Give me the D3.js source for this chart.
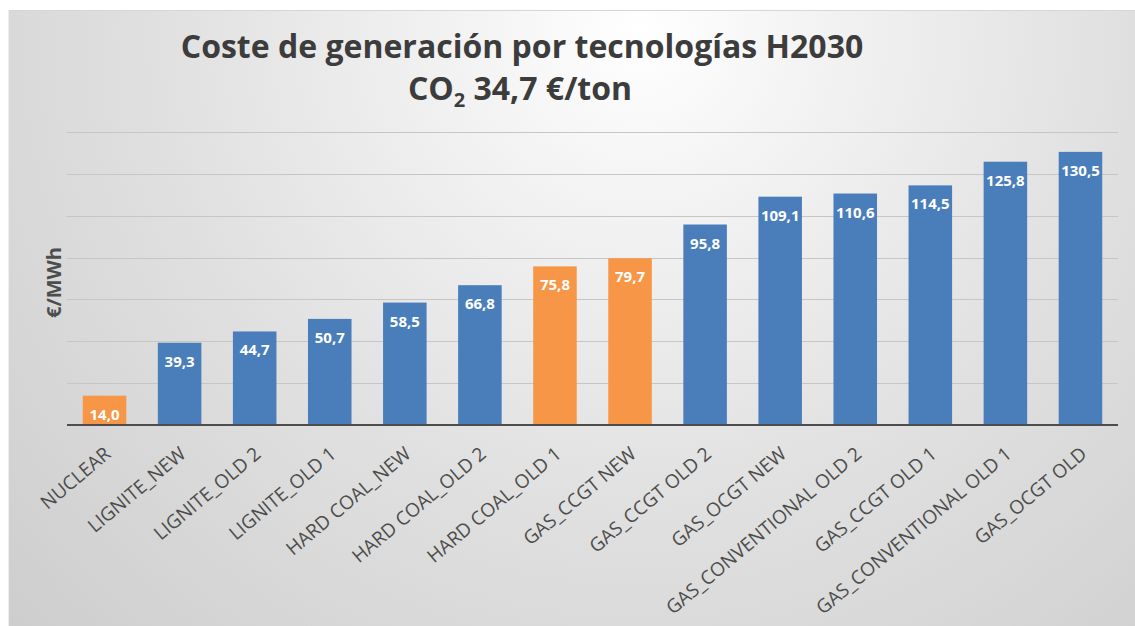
<!DOCTYPE html>
<html>
<head>
<meta charset="utf-8">
<script src="https://cdn.jsdelivr.net/npm/d3@7"></script>
<style>
  html, body { margin: 0; padding: 0; background: #ffffff; }
  svg { display: block; }
</style>
</head>
<body>
<svg id="chart" width="1135" height="626"></svg>
<script>
// Generation cost by technology, horizon 2030 (CO2 at 34,7 €/ton)
const categories = [
  "NUCLEAR", "LIGNITE_NEW", "LIGNITE_OLD 2", "LIGNITE_OLD 1",
  "HARD COAL_NEW", "HARD COAL_OLD 2", "HARD COAL_OLD 1",
  "GAS_CCGT NEW", "GAS_CCGT OLD 2", "GAS_OCGT NEW",
  "GAS_CONVENTIONAL OLD 2", "GAS_CCGT OLD 1",
  "GAS_CONVENTIONAL OLD 1", "GAS_OCGT OLD"
];
const costs = [14.0, 39.3, 44.7, 50.7, 58.5, 66.8, 75.8, 79.7, 95.8, 109.1, 110.6, 114.5, 125.8, 130.5];
const highlighted = ["NUCLEAR", "HARD COAL_OLD 1", "GAS_CCGT NEW"];
const gridValues = [20, 40, 60, 80, 100, 120, 140];
const titleLine1 = "Coste de generación por tecnologías H2030";
const titleLine2 = ["CO", "2", " 34,7 €/ton"];
const yAxisTitle = "€/MWh";

const W = 1135, H = 626;
const svg = d3.select("#chart");

const locale = d3.formatLocale({ decimal: ",", thousands: ".", grouping: [3], currency: ["", " €"] });
const fmt = locale.format(".1f");

// Panel background: light radial gradient, white near the title
const defs = svg.append("defs");
const grad = defs.append("radialGradient")
  .attr("id", "bg").attr("gradientUnits", "userSpaceOnUse")
  .attr("cx", 640).attr("cy", 30).attr("r", 880);
grad.append("stop").attr("offset", 0).attr("stop-color", "#ffffff");
grad.append("stop").attr("offset", 0.18).attr("stop-color", "#f4f4f4");
grad.append("stop").attr("offset", 0.55).attr("stop-color", "#e0e0e0");
grad.append("stop").attr("offset", 1).attr("stop-color", "#cdcdcd");

svg.append("rect").attr("x", 8).attr("y", 10).attr("width", W - 8).attr("height", H - 10)
  .attr("fill", "url(#bg)");
svg.append("line").attr("x1", 8).attr("x2", W).attr("y1", 10.5).attr("y2", 10.5)
  .attr("stroke", "#d6d6d6").attr("stroke-width", 1);
svg.append("line").attr("x1", 8.5).attr("x2", 8.5).attr("y1", 10).attr("y2", H)
  .attr("stroke", "#eeeeee").attr("stroke-width", 1);

// Scales
const x = d3.scaleBand().domain(categories).range([67, 1118]).paddingInner(0.42).paddingOuter(0.21);
const y = d3.scaleLinear().domain([0, 140]).range([425, 132]);

// Gridlines
svg.append("g").selectAll("line").data(gridValues).join("line")
  .attr("x1", 67).attr("x2", 1118)
  .attr("y1", d => Math.round(y(d)) + 0.5).attr("y2", d => Math.round(y(d)) + 0.5)
  .attr("stroke", "#c6c6c6").attr("stroke-width", 1);

// Bars
const data = categories.map((c, i) => ({ cat: c, v: costs[i] }));
svg.append("g").selectAll("rect").data(data).join("rect")
  .attr("x", d => x(d.cat)).attr("width", x.bandwidth())
  .attr("y", d => y(d.v)).attr("height", d => y(0) - y(d.v))
  .attr("fill", d => highlighted.includes(d.cat) ? "#f79646" : "#4a7ebb");

// Value labels inside the bar tops
svg.append("g").selectAll("text").data(data).join("text")
  .attr("x", d => x(d.cat) + x.bandwidth() / 2)
  .attr("y", d => y(d.v) + 24)
  .attr("text-anchor", "middle")
  .attr("font-family", "'Open Sans', sans-serif").attr("font-weight", 700)
  .attr("font-size", 15).attr("fill", "#ffffff")
  .text(d => fmt(d.v));

// Category axis baseline
svg.append("line").attr("x1", 67).attr("x2", 1118).attr("y1", y(0)).attr("y2", y(0))
  .attr("stroke", "#4d4d4d").attr("stroke-width", 2);

// Rotated category labels
svg.append("g").selectAll("text").data(categories).join("text")
  .attr("transform", d => `translate(${x(d) + x.bandwidth() / 2 + 7.5},${y(0) + 31}) rotate(-40)`)
  .attr("text-anchor", "end")
  .attr("font-family", "'Open Sans', sans-serif").attr("font-size", 19)
  .attr("fill", "#4d4d4d")
  .text(d => d);

// Value axis title
svg.append("text")
  .attr("transform", `translate(61,${(y(0) + y(140)) / 2 + 4}) rotate(-90)`)
  .attr("text-anchor", "middle")
  .attr("font-family", "'Open Sans', sans-serif").attr("font-weight", 700)
  .attr("font-size", 20).attr("fill", "#4d4d4d")
  .text(yAxisTitle);

// Title
svg.append("text")
  .attr("x", 522).attr("y", 58).attr("text-anchor", "middle")
  .attr("font-family", "'Open Sans', sans-serif").attr("font-weight", 700)
  .attr("font-size", 32).attr("fill", "#3c3c3c")
  .text(titleLine1);
const t2 = svg.append("text")
  .attr("x", 520).attr("y", 100).attr("text-anchor", "middle")
  .attr("font-family", "'Open Sans', sans-serif").attr("font-weight", 700)
  .attr("font-size", 32).attr("fill", "#3c3c3c");
t2.append("tspan").text(titleLine2[0]);
t2.append("tspan").attr("font-size", 20).attr("dy", 7).text(titleLine2[1]);
t2.append("tspan").attr("dy", -7).text(titleLine2[2]);
</script>
</body>
</html>
